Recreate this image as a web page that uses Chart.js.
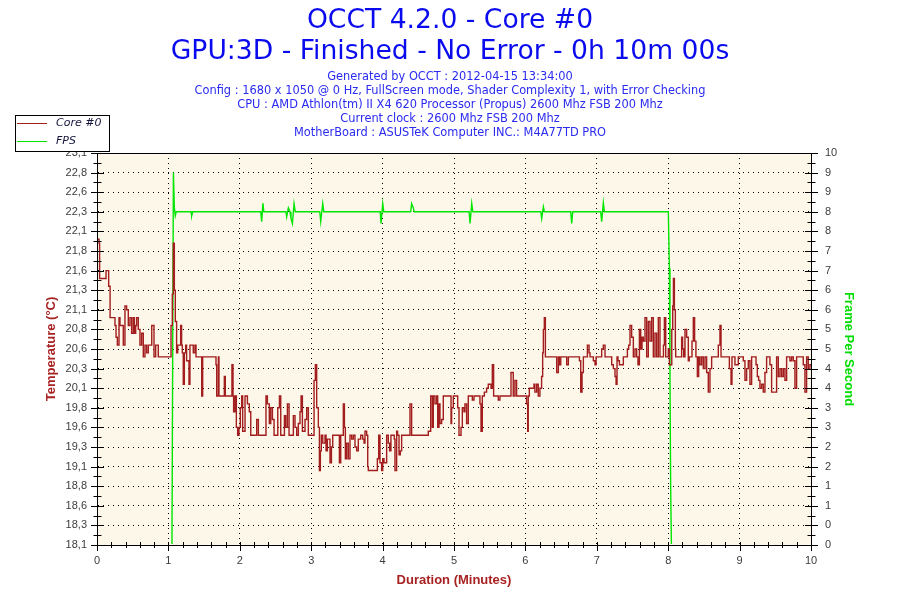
<!DOCTYPE html>
<html>
<head>
<meta charset="utf-8">
<title>OCCT 4.2.0 - Core #0</title>
<script src="https://cdn.jsdelivr.net/npm/chart.js@4.4.1/dist/chart.umd.min.js"></script>
<style>
  html, body { margin: 0; padding: 0; background: #fff; }
  canvas { display: block; }
</style>
</head>
<body>
<canvas id="chart" width="900" height="600"></canvas>
<script>
/*jslint browser:true, indent:2*/
/*globals Chart*/
(function () {
  'use strict';

  var titleLines = [
    'OCCT 4.2.0 - Core #0',
    'GPU:3D - Finished - No Error - 0h 10m 00s'
  ];
  var infoLines = [
    'Generated by OCCT : 2012-04-15 13:34:00',
    'Config : 1680 x 1050 @ 0 Hz, FullScreen mode, Shader Complexity 1, with Error Checking',
    'CPU : AMD Athlon(tm) II X4 620 Processor (Propus) 2600 Mhz FSB 200 Mhz',
    'Current clock : 2600 Mhz FSB 200 Mhz',
    'MotherBoard : ASUSTeK Computer INC.: M4A77TD PRO'
  ];
  var seriesNames = ['Core #0', 'FPS'];

  // core temperature, sampled where the reading changes (seconds, °C)
  var tempSeconds = [
    0, 1.7, 2.2, 7.6, 9.8, 11.0, 15.1, 16.0, 17.1, 18.5, 19.3, 22.1, 23.5, 24.9, 26.3, 27.7,
    29.1, 30.5, 31.4, 32.5, 33.3, 34.7, 36.1, 37.5, 38.9, 40.3, 41.7, 43.1, 46.0, 47.9, 49.3, 51.5,
    62.2, 63.3, 64.1, 65.0, 65.8, 66.9, 67.8, 70.3, 71.1, 71.7, 72.5, 73.4, 74.5, 75.3, 77.3, 78.1,
    80.9, 82.3, 83.2, 88.0, 88.8, 100.0, 100.6, 102.0, 102.5, 107.0, 107.8, 113.4, 114.3, 114.8,
    116.0, 117.1, 118.2, 119.3, 120.4, 121.6, 122.4, 124.4, 126.4, 128.0, 129.2, 134.2, 135.6,
    142.0, 143.2, 144.8, 146.0, 147.4, 148.8, 151.9, 153.3, 154.4, 157.5, 158.6, 160.0, 161.4,
    165.0, 166.4, 167.8, 169.2, 170.6, 171.5, 172.6, 174.8, 176.2, 177.6, 182.4, 183.5, 184.6,
    186.0, 186.9, 187.7, 188.5, 189.7, 191.6, 192.5, 193.6, 195.8, 197.0, 198.1, 203.7, 204.8,
    207.0, 207.9, 208.7, 209.8, 211.2, 212.6, 214.0, 215.4, 216.8, 218.2, 219.6, 221.6, 223.3,
    224.4, 225.2, 226.6, 227.5, 228.0, 235.6, 236.7, 237.8, 239.2, 240.1, 241.2, 243.4, 244.8,
    245.9, 247.0, 249.8, 250.4, 251.8, 252.6, 253.8, 254.9, 256.0, 263.0, 264.4, 278.4, 280.4,
    281.8, 282.6, 284.0, 285.4, 286.3, 287.4, 288.2, 289.6, 291.0, 297.5, 298.0, 299.4, 303.1,
    304.2, 305.9, 307.0, 308.4, 309.2, 310.6, 312.0, 315.4, 316.8, 321.8, 322.7, 323.8, 325.5,
    327.4, 328.8, 331.1, 332.2, 333.3, 337.2, 338.6, 347.9, 349.8, 351.2, 352.6, 361.0, 361.9,
    362.4, 363.3, 367.2, 368.0, 369.5, 370.8, 372.2, 373.6, 374.5, 375.1, 375.9, 376.8, 386.3,
    387.7, 388.5, 389.7, 394.7, 396.1, 405.4, 406.5, 407.6, 408.7, 412.1, 413.5, 414.3, 417.1,
    418.5, 419.4, 424.1, 425.5, 426.9, 432.5, 433.9, 435.3, 436.2, 437.0, 437.8, 439.0, 442.3,
    445.7, 446.8, 447.9, 449.3, 450.7, 452.1, 453.5, 454.6, 455.8, 456.9, 458.0, 459.1, 460.5,
    461.9, 463.3, 464.7, 466.1, 467.5, 468.9, 470.3, 471.7, 473.1, 476.0, 476.8, 477.9, 480.1,
    481.0, 483.0, 483.8, 484.4, 485.2, 486.0, 486.3, 491.3, 492.1, 493.0, 494.1, 495.5, 496.9,
    497.7, 500.0, 501.1, 502.2, 503.3, 504.5, 505.6, 506.7, 508.1, 509.5, 510.9, 512.3, 513.7,
    515.1, 516.5, 522.1, 523.5, 524.4, 531.4, 532.8, 533.6, 536.1, 538.9, 543.1, 544.5, 545.9,
    547.3, 548.7, 550.1, 553.8, 554.9, 556.0, 557.1, 558.5, 559.9, 561.3, 562.7, 565.5, 566.9,
    571.1, 572.5, 573.9, 575.3, 576.7, 578.1, 579.5, 582.3, 583.7, 585.1, 586.5, 587.9, 593.5,
    594.9, 596.3, 597.7, 599.1, 600
  ];
  var tempValues = [
    22.0, 21.95, 21.5, 21.6, 21.4, 21.0, 20.9, 20.75, 20.65, 21.0, 20.9, 20.65, 21.15, 21.1, 20.9, 21.0,
    20.8, 21.0, 20.8, 20.9, 21.0, 20.85, 20.65, 20.8, 20.5, 20.65, 20.55, 20.65, 20.9, 20.5, 20.65, 20.5,
    20.9, 21.3, 21.95, 21.35, 20.95, 20.55, 20.65, 20.9, 20.65, 20.55, 20.15, 20.55, 20.65, 20.45, 20.15, 20.65,
    20.55, 20.65, 20.5, 20.0, 20.5, 20.4, 20.0, 20.5, 20.0, 20.25, 20.0, 20.4, 20.0, 19.8,
    20.0, 19.6, 19.5, 19.6, 19.85, 20.0, 19.55, 20.0, 19.9, 19.8, 19.5, 19.7, 19.5,
    20.0, 19.9, 19.65, 19.85, 19.7, 19.5, 19.85, 20.0, 19.5, 19.75, 19.6, 19.9, 19.5,
    19.75, 19.6, 19.5, 19.65, 19.8, 20.0, 19.55, 19.7, 19.85, 19.5, 20.2, 20.4, 19.85,
    19.6, 19.05, 19.3, 19.5, 19.4, 19.5, 19.3, 19.45, 19.15, 19.35, 19.5, 19.15, 19.5,
    19.9, 19.6, 19.2, 19.4, 19.2, 19.5, 19.45, 19.5, 19.35, 19.3, 19.45, 19.5, 19.45,
    19.4, 19.55, 19.5, 19.1, 19.05, 19.2, 19.5, 19.15, 19.05, 19.2, 19.15, 19.5, 19.4,
    19.3, 19.5, 19.45, 19.05, 19.55, 19.5, 19.25, 19.3, 19.5, 19.9, 19.5, 19.55, 20.0,
    19.6, 20.0, 19.9, 20.0, 19.6, 19.9, 19.65, 19.7, 20.0, 19.65, 19.85, 20.0, 19.85,
    19.5, 19.6, 19.85, 19.8, 19.9, 19.65, 20.0, 19.95, 20.0, 19.9, 19.55, 20.0, 20.05,
    20.1, 20.15, 20.1, 20.4, 20.0, 19.95, 20.0, 20.3, 20.0, 20.2, 20.0, 19.9, 19.55,
    20.0, 20.1, 20.15, 20.05, 20.15, 20.0, 20.1, 20.25, 20.55, 20.85, 21.0, 20.5, 20.3,
    20.5, 20.4, 20.5, 20.4, 20.5, 20.45, 20.05, 20.3, 20.5, 20.65, 20.55, 20.5, 20.45,
    20.4, 20.5, 20.6, 20.65, 20.5, 20.4, 20.35, 20.25, 20.15, 20.5, 20.45, 20.4, 20.5,
    20.6, 20.65, 20.9, 20.75, 20.5, 20.6, 20.5, 20.4, 20.85, 20.6, 20.75, 20.7, 21.0,
    20.5, 20.95, 20.7, 21.0, 20.5, 20.8, 20.5, 21.0, 20.5, 20.65, 21.0, 20.5, 20.6,
    20.4, 20.85, 21.15, 21.5, 21.1, 20.6, 20.5, 20.75, 20.6, 20.5, 20.85, 20.75, 20.45,
    20.5, 20.7, 21.0, 20.7, 20.5, 20.25, 20.5, 20.4, 20.5, 20.35, 20.5, 20.3, 20.05,
    20.35, 20.5, 20.65, 20.9, 20.5, 20.35, 20.15, 20.5, 20.4, 20.5, 20.45, 20.2, 20.35,
    20.45, 20.15, 20.5, 20.4, 20.25, 20.2, 20.1, 20.15, 20.05, 20.3, 20.5, 20.4, 20.05,
    20.5, 20.25, 20.35, 20.25, 20.35, 20.2, 20.5, 20.45, 20.5, 20.45, 20.1, 20.5, 20.4,
    20.05, 20.5, 20.35, 20.4, 20.4
  ];

  // frames per second (seconds, fps)
  var fpsSeconds = [
    0, 63.0, 63.6, 64.2, 65.0, 65.8, 66.6, 79.0, 79.6, 80.4, 137.6, 138.4, 139.4, 140.2,
    158.8, 159.4, 160.8, 162.2, 163.0, 164.2, 165.6, 166.6, 187.2, 188.0, 189.7, 190.6,
    238.0, 238.7, 240.1, 241.0, 263.6, 264.4, 265.8, 266.6, 312.7, 313.5, 314.9, 315.8,
    373.0, 373.7, 375.1, 376.0, 398.1, 398.9, 399.8, 423.3, 424.1, 425.5, 426.4,
    480.1, 481.0, 481.5, 482.1, 482.7, 600
  ];
  var fpsValues = [
    0, 0, 4.8, 9.5, 8.6, 8.4, 8.5, 8.5, 8.4, 8.5, 8.5, 8.25, 8.72, 8.5,
    8.5, 8.37, 8.6, 8.5, 8.33, 8.2, 8.71, 8.5, 8.5, 8.25, 8.71, 8.5,
    8.5, 8.2, 8.71, 8.5, 8.5, 8.71, 8.6, 8.5, 8.5, 8.2, 8.71, 8.5,
    8.5, 8.33, 8.63, 8.5, 8.5, 8.2, 8.5, 8.5, 8.25, 8.73, 8.5,
    8.5, 7.06, 4.2, 1.4, 0, 0
  ];

  var minuteLabels = ['0', '1', '2', '3', '4', '5', '6', '7', '8', '9', '10'];
  var tempTickLabels = [
    '18,1', '18,3', '18,6', '18,8', '19,1', '19,3', '19,6', '19,8', '20,1', '20,3', '20,6',
    '20,8', '21,1', '21,3', '21,6', '21,8', '22,1', '22,3', '22,6', '22,8', '23,1'
  ];
  var fpsTickLabels = [
    '0', '0', '1', '1', '2', '2', '3', '3', '4', '4', '5',
    '5', '6', '6', '7', '7', '8', '8', '9', '9', '10'
  ];

  var colors, toPoints, spreadTicks, tickFont, axisTitleFont, frame, header, legendBox;

  colors = {
    core: '#a21d1d',
    fps: '#00e600',
    title: '#0a0aee',
    info: '#2a2af0',
    axisRed: '#a82222',
    axisGreen: '#00dd00',
    ticks: '#3c3c3c',
    plot: '#fdf7e9'
  };

  toPoints = function (seconds, values) {
    return seconds.map(function (s, i) {
      return {x: s / 60, y: values[i]};
    });
  };

  spreadTicks = function (min, max, count) {
    var ticks = [], i, step = (max - min) / (count - 1);
    for (i = 0; i < count; i += 1) {
      ticks.push({value: min + i * step});
    }
    return ticks;
  };

  tickFont = {family: 'Liberation Sans', size: 11};
  axisTitleFont = {family: 'Liberation Sans', size: 13, weight: 'bold'};

  Chart.defaults.font.family = 'DejaVu Sans';

  // cream plot background, then frame and crossing ticks on top
  frame = {
    id: 'frame',
    beforeDraw: function (chart) {
      var ctx = chart.ctx, a = chart.chartArea;
      ctx.save();
      ctx.fillStyle = '#ffffff';
      ctx.fillRect(0, 0, chart.width, chart.height);
      ctx.fillStyle = colors.plot;
      ctx.fillRect(a.left, a.top, a.right - a.left, a.bottom - a.top);
      ctx.restore();
    },
    afterDraw: function (chart) {
      var ctx = chart.ctx, a = chart.chartArea, sx = chart.scales.x,
        sy = chart.scales.y, sy1 = chart.scales.y1, i, px, len, n;
      ctx.save();
      ctx.strokeStyle = '#000';
      ctx.lineWidth = 1;
      ctx.strokeRect(a.left + 0.5, a.top + 0.5, a.right - a.left, a.bottom - a.top);
      ctx.beginPath();
      for (i = 0; i <= 50; i += 1) {
        px = Math.round(sx.getPixelForValue(i / 5)) + 0.5;
        len = i % 5 === 0 ? 6 : 3;
        ctx.moveTo(px, a.bottom - 3);
        ctx.lineTo(px, a.bottom + len);
      }
      n = (tempTickLabels.length - 1) * 2;
      for (i = 0; i <= n; i += 1) {
        px = Math.round(sy.getPixelForValue(sy.min + (sy.max - sy.min) * i / n)) + 0.5;
        len = i % 2 === 0 ? 6 : 3.5;
        ctx.moveTo(a.left - len, px);
        ctx.lineTo(a.left + len + 1, px);
        px = Math.round(sy1.getPixelForValue(sy1.min + (sy1.max - sy1.min) * i / n)) + 0.5;
        ctx.moveTo(a.right - len, px);
        ctx.lineTo(a.right + len + 1, px);
      }
      ctx.stroke();
      ctx.restore();
    }
  };

  header = {
    id: 'header',
    afterDraw: function (chart) {
      var ctx = chart.ctx, cx = chart.width / 2;
      ctx.save();
      ctx.textAlign = 'center';
      ctx.textBaseline = 'middle';
      ctx.fillStyle = colors.title;
      ctx.font = '26.6px "DejaVu Sans"';
      titleLines.forEach(function (line, i) {
        ctx.fillText(line, cx, 21 + i * 31);
      });
      ctx.fillStyle = colors.info;
      ctx.font = '11.4px "DejaVu Sans"';
      infoLines.forEach(function (line, i) {
        ctx.fillText(line, cx, 77 + i * 13.9);
      });
      ctx.restore();
    }
  };

  legendBox = {
    id: 'legendBox',
    afterDraw: function (chart) {
      var ctx = chart.ctx;
      ctx.save();
      ctx.fillStyle = '#fff';
      ctx.fillRect(15, 115, 95, 37);
      ctx.strokeStyle = '#000';
      ctx.lineWidth = 1;
      ctx.strokeRect(15.5, 115.5, 94, 36);
      ctx.font = 'italic 11px "DejaVu Sans"';
      ctx.textBaseline = 'middle';
      chart.data.datasets.forEach(function (ds, i) {
        var y = 123.5 + i * 18;
        ctx.strokeStyle = ds.borderColor;
        ctx.beginPath();
        ctx.moveTo(17, y);
        ctx.lineTo(47, y);
        ctx.stroke();
        ctx.fillStyle = '#14143c';
        ctx.fillText(ds.label, 56, y);
      });
      ctx.restore();
    }
  };

  new Chart(document.getElementById('chart').getContext('2d'), {
    type: 'line',
    data: {
      datasets: [{
        label: seriesNames[0],
        data: toPoints(tempSeconds, tempValues),
        yAxisID: 'y',
        borderColor: colors.core,
        borderWidth: 1.4,
        stepped: true,
        pointRadius: 0,
        fill: false
      }, {
        label: seriesNames[1],
        data: toPoints(fpsSeconds, fpsValues),
        yAxisID: 'y1',
        borderColor: colors.fps,
        borderWidth: 1.4,
        tension: 0,
        pointRadius: 0,
        fill: false,
        clip: {left: 0, top: 2, right: 0, bottom: -1}
      }]
    },
    options: {
      responsive: false,
      animation: false,
      events: [],
      layout: {padding: {top: 153, left: 0, right: 0, bottom: 0}},
      plugins: {
        legend: {display: false},
        tooltip: {enabled: false},
        title: {display: false}
      },
      scales: {
        x: {
          type: 'linear',
          position: 'bottom',
          min: 0,
          max: 10,
          afterBuildTicks: function (axis) {
            axis.ticks = minuteLabels.map(function (label) {
              return {value: parseFloat(label)};
            });
          },
          afterFit: function (axis) { axis.height = 55; },
          grid: {color: '#000', lineWidth: 1, drawTicks: false},
          border: {color: '#000', width: 1, dash: [1, 4]},
          ticks: {
            autoSkip: false,
            maxRotation: 0,
            padding: 9,
            color: colors.ticks,
            font: tickFont,
            callback: function (value, index) { return minuteLabels[index]; }
          },
          title: {
            display: true,
            text: 'Duration (Minutes)',
            color: colors.axisRed,
            font: axisTitleFont,
            padding: {top: 0, bottom: 12}
          }
        },
        y: {
          type: 'linear',
          position: 'left',
          min: 18.1,
          max: 23.1,
          afterBuildTicks: function (axis) {
            axis.ticks = spreadTicks(axis.min, axis.max, tempTickLabels.length);
          },
          afterFit: function (axis) { axis.width = 97; },
          grid: {color: '#000', lineWidth: 1, drawTicks: false},
          border: {color: '#000', width: 1, dash: [1, 4]},
          ticks: {
            autoSkip: false,
            padding: 10,
            color: colors.ticks,
            font: tickFont,
            callback: function (value, index) { return tempTickLabels[index]; }
          },
          title: {
            display: true,
            text: 'Temperature (°C)',
            color: colors.axisRed,
            font: axisTitleFont,
            padding: {top: 44, bottom: 0}
          }
        },
        y1: {
          type: 'linear',
          position: 'right',
          min: 0,
          max: 10,
          afterBuildTicks: function (axis) {
            axis.ticks = spreadTicks(axis.min, axis.max, fpsTickLabels.length);
          },
          afterFit: function (axis) { axis.width = 89; },
          grid: {drawOnChartArea: false, drawTicks: false},
          border: {color: '#000', width: 1},
          ticks: {
            autoSkip: false,
            padding: 14,
            color: colors.ticks,
            font: tickFont,
            callback: function (value, index) { return fpsTickLabels[index]; }
          },
          title: {
            display: true,
            text: 'Frame Per Second',
            color: colors.axisGreen,
            font: axisTitleFont,
            padding: {top: 44, bottom: 0}
          }
        }
      }
    },
    plugins: [frame, header, legendBox]
  });
}());
</script>
</body>
</html>
